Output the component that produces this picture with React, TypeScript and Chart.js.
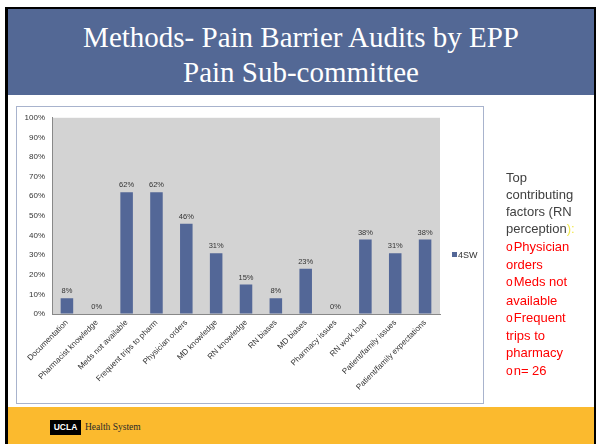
import React, { useEffect, useRef } from "react";
import { Chart, registerables } from "chart.js";

Chart.register(...registerables);

const categories = [
  "Documentation",
  "Pharmacist knowledge",
  "Meds not available",
  "Frequent trips to pharm",
  "Physician orders",
  "MD knowledge",
  "RN knowledge",
  "RN biases",
  "MD biases",
  "Pharmacy issues",
  "RN work load",
  "Patient/family issues",
  "Patient/family expectations",
];
const values4SW = [8, 0, 62, 62, 46, 31, 15, 8, 23, 0, 38, 31, 38];
const seriesName = "4SW";
const yMin = 0;
const yMax = 100;
const yStep = 10;

const titleLines = ["Methods- Pain Barrier Audits by EPP", "Pain Sub-committee"];
const introLines = ["Top", "contributing", "factors (RN", "perception"];
const bulletItems = [["Physician", "orders"], ["Meds not", "available"], ["Frequent", "trips to", "pharmacy"], ["n= 26"]];

const BAR = "#536797";
const SANS = "Arial, 'Liberation Sans', sans-serif";
const SERIF = "'Liberation Serif', 'DejaVu Serif', Tinos, 'Times New Roman', Times, serif";

const plotBg = {
  id: "plotBg",
  beforeDraw(chart: any) {
    const { ctx, chartArea } = chart;
    ctx.save();
    ctx.fillStyle = "#D3D3D3";
    ctx.fillRect(chartArea.left, chartArea.top, chartArea.right - chartArea.left, chartArea.bottom - chartArea.top);
    ctx.restore();
  },
};

const dataLabels = {
  id: "dataLabels",
  afterDatasetsDraw(chart: any) {
    const { ctx } = chart;
    ctx.save();
    ctx.font = "7.5px " + SANS;
    ctx.fillStyle = "#333333";
    ctx.textAlign = "center";
    ctx.textBaseline = "middle";
    chart.data.datasets.forEach((ds: any, i: number) => {
      const meta = chart.getDatasetMeta(i);
      meta.data.forEach((el: any, j: number) => {
        ctx.fillText(ds.data[j] + "%", el.x, el.y - 7);
      });
    });
    ctx.restore();
  },
};

function BarChart() {
  const ref = useRef<HTMLCanvasElement>(null);
  useEffect(() => {
    if (!ref.current) return;
    const chart = new Chart(ref.current, {
      type: "bar",
      data: {
        labels: categories,
        datasets: [
          {
            label: seriesName,
            data: values4SW,
            backgroundColor: BAR,
            barPercentage: 0.42,
            categoryPercentage: 1,
          },
        ],
      },
      options: {
        animation: false,
        responsive: false,
        events: [],
        layout: { padding: { top: 10, right: 44, left: 0, bottom: 0 } },
        plugins: { legend: { display: false }, tooltip: { enabled: false } },
        scales: {
          x: {
            afterFit: (s: any) => {
              s.height = 90;
            },
            grid: { display: true, drawOnChartArea: false, drawTicks: false },
            border: { display: true, color: "#888888", width: 1 },
            ticks: {
              autoSkip: false,
              maxRotation: 45,
              minRotation: 45,
              padding: 4,
              color: "#333333",
              font: { size: 8, family: SANS },
            },
          },
          y: {
            min: yMin,
            max: yMax,
            afterFit: (s: any) => {
              s.width = 36;
            },
            grid: { display: true, drawOnChartArea: false, drawTicks: false },
            border: { display: true, color: "#888888", width: 1 },
            ticks: {
              stepSize: yStep,
              padding: 7,
              color: "#333333",
              font: { size: 8, family: SANS },
              callback: (v: any) => v + "%",
            },
          },
        },
      },
      plugins: [plotBg, dataLabels],
    });
    return () => chart.destroy();
  }, []);
  return <canvas ref={ref} width={468} height={298} style={{ position: "absolute", left: 16, top: 106, width: 468, height: 298 }} />;
}

export default function App() {
  return (
    <div style={{ position: "absolute", left: 0, top: 0, width: 596, height: 444, overflow: "hidden", background: "#ffffff" }}>
      <div style={{ position: "absolute", left: 5, top: 7, width: 591, height: 2, background: "#000" }} />
      <div style={{ position: "absolute", left: 5, top: 7, width: 3, height: 437, background: "#000" }} />
      <div style={{ position: "absolute", left: 594, top: 7, width: 2, height: 437, background: "#000" }} />
      <div style={{ position: "absolute", left: 8, top: 9, width: 586, height: 86, background: "#536895" }} />
      <div
        style={{
          position: "absolute",
          left: 8,
          top: 20,
          width: 586,
          textAlign: "center",
          color: "#fff",
          fontFamily: SERIF,
          fontSize: 29,
          lineHeight: "35px",
          whiteSpace: "nowrap",
        }}
      >
        {titleLines.map((t, i) => (
          <div key={i}>{t}</div>
        ))}
      </div>
      <div style={{ position: "absolute", left: 16, top: 106, width: 466, height: 296, border: "1px solid #A8B3CD" }} />
      <BarChart />
      <div style={{ position: "absolute", left: 452, top: 252, width: 5, height: 5, background: BAR }} />
      <div style={{ position: "absolute", left: 458, top: 249, fontFamily: SANS, fontSize: 9, lineHeight: "12px", color: "#333" }}>{seriesName}</div>
      <div
        style={{
          position: "absolute",
          left: 506,
          top: 168.5,
          fontFamily: SANS,
          fontSize: 13,
          lineHeight: "17.3px",
          whiteSpace: "nowrap",
          color: "#404040",
        }}
      >
        {introLines.map((t, i) => (
          <div key={"i" + i}>
            {t}
            {i === introLines.length - 1 ? <span style={{ color: "#F2E94E" }}>):</span> : null}
          </div>
        ))}
        {bulletItems.map((lines, i) =>
          lines.map((t, j) => (
            <div key={"b" + i + "_" + j} style={{ color: "#FF0000" }}>
              {j === 0 ? <span style={{ fontSize: 12, marginRight: 1 }}>o</span> : null}
              {t}
            </div>
          ))
        )}
      </div>
      <div style={{ position: "absolute", left: 8, top: 407, width: 586, height: 37, background: "#FBBA2E" }} />
      <div
        style={{
          position: "absolute",
          left: 50,
          top: 420,
          width: 31,
          height: 15,
          background: "#000",
          color: "#fff",
          fontFamily: SANS,
          fontWeight: "bold",
          fontSize: 8.5,
          lineHeight: "15px",
          textAlign: "center",
        }}
      >
        UCLA
      </div>
      <div
        style={{
          position: "absolute",
          left: 85,
          top: 420,
          fontFamily: SERIF,
          fontSize: 9.5,
          lineHeight: "15px",
          color: "#2a2a2a",
          whiteSpace: "nowrap",
        }}
      >
        Health System
      </div>
    </div>
  );
}
